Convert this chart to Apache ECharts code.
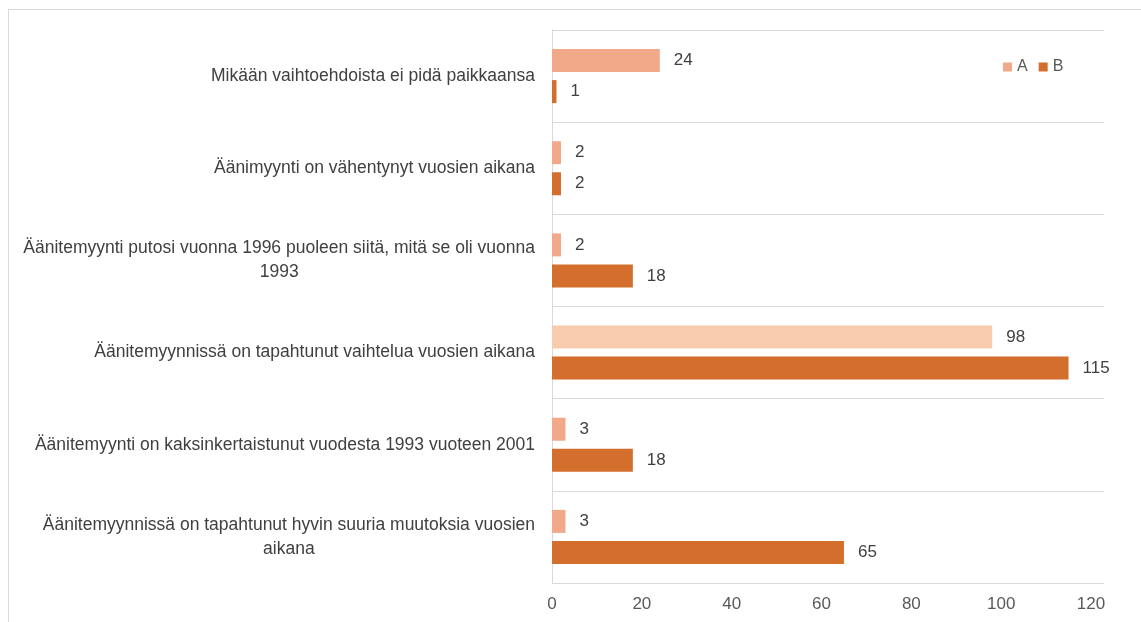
<!DOCTYPE html>
<html>
<head>
<meta charset="utf-8">
<script src="https://cdn.jsdelivr.net/npm/echarts@6/dist/echarts.min.js"></script>
<style>
  html, body { margin: 0; padding: 0; background: #ffffff; }
  #chart { width: 1141px; height: 622px; }
</style>
</head>
<body>
<div id="chart"></div>
<script>
// Statements, top to bottom
const categories = [
  'Mikään vaihtoehdoista ei pidä paikkaansa',
  'Äänimyynti on vähentynyt vuosien aikana',
  'Äänitemyynti putosi vuonna 1996 puoleen siitä, mitä se oli vuonna\n1993',
  'Äänitemyynnissä on tapahtunut vaihtelua vuosien aikana',
  'Äänitemyynti on kaksinkertaistunut vuodesta 1993 vuoteen 2001',
  'Äänitemyynnissä on tapahtunut hyvin suuria muutoksia vuosien\naikana'
];
const seriesNames = ['A', 'B'];
const valuesA = [24, 2, 2, 98, 3, 3];
const valuesB = [1, 2, 18, 115, 18, 65];
const xTicks = { min: 0, max: 120, interval: 20 };
// Bar in series A drawn in the lighter tint
const lightIndexA = 3;

const FONT = 'Liberation Sans';
const FS = 17;
const FS_CAT = 17.5;
const colorA = '#F1A98A';
const colorALight = '#F8CBAD';
const colorB = '#D36E2C';
const textColor = '#404040';
const axisTextColor = '#595959';

const chart = echarts.init(document.getElementById('chart'));

const labelStyle = {
  show: true,
  position: 'right',
  distance: 14,
  color: textColor,
  fontFamily: FONT,
  fontSize: FS
};

// Plot area runs a little past the last labelled tick
const axisMax = xTicks.max * (1104 - 552) / (1091 - 552);

chart.setOption({
  animation: false,
  backgroundColor: '#ffffff',
  graphic: [{
    type: 'rect',
    shape: { x: 8.5, y: 9.5, width: 1200, height: 700 },
    style: { fill: 'none', stroke: '#d9d9d9', lineWidth: 1 },
    silent: true
  }],
  grid: { left: 552, right: 37, top: 30, bottom: 39, containLabel: false },
  legend: {
    left: 998,
    top: 54,
    itemWidth: 9,
    itemHeight: 9,
    itemGap: 11,
    icon: 'rect',
    textStyle: { color: axisTextColor, fontFamily: FONT, fontSize: 16 },
    data: seriesNames
  },
  xAxis: {
    type: 'value',
    min: xTicks.min,
    max: axisMax,
    interval: xTicks.interval,
    axisLine: { show: false },
    axisTick: { show: false },
    splitLine: { show: false },
    axisLabel: {
      showMaxLabel: false,
      margin: 13,
      color: axisTextColor,
      fontFamily: FONT,
      fontSize: FS
    }
  },
  yAxis: {
    type: 'category',
    inverse: true,
    data: categories,
    axisLine: { show: true, lineStyle: { color: '#d9d9d9' } },
    axisTick: { show: false },
    splitLine: { show: true, lineStyle: { color: '#d9d9d9' } },
    axisLabel: {
      margin: 17,
      color: textColor,
      fontFamily: FONT,
      fontSize: FS_CAT,
      lineHeight: 24,
      formatter: v => '{c|' + v + '}',
      rich: { c: { align: 'center', color: textColor, fontFamily: FONT, fontSize: FS_CAT, lineHeight: 24 } }
    }
  },
  series: [
    {
      name: seriesNames[0],
      type: 'bar',
      barWidth: 23,
      barGap: '35%',
      itemStyle: { color: colorA },
      label: labelStyle,
      data: valuesA.map((v, i) => i === lightIndexA ? { value: v, itemStyle: { color: colorALight } } : v)
    },
    {
      name: seriesNames[1],
      type: 'bar',
      barWidth: 23,
      barGap: '35%',
      itemStyle: { color: colorB },
      label: labelStyle,
      data: valuesB
    }
  ]
});
</script>
</body>
</html>
